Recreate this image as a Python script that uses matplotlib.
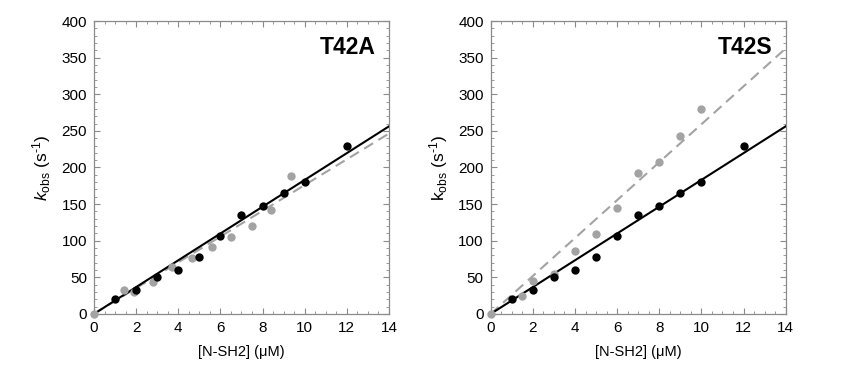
import numpy as np
import matplotlib.pyplot as plt
from matplotlib.ticker import MultipleLocator

plt.rcParams['font.family'] = ['Liberation Sans', 'DejaVu Sans']
plt.rcParams['mathtext.fontset'] = 'custom'
plt.rcParams['mathtext.rm'] = 'Liberation Sans'
plt.rcParams['mathtext.it'] = 'Liberation Sans:italic'

# wild type (black) points, same in both panels
wt_x = [1, 2, 3, 4, 5, 6, 7, 8, 9, 10, 12]
wt_y = [20, 32, 50, 60, 78, 107, 135, 148, 165, 180, 230]
wt_slope = 18.3

# T42A mutant (gray)
a_x = [0, 1.4, 1.9, 2.8, 3.7, 4.65, 5.6, 6.5, 7.5, 8.4, 9.35]
a_y = [0, 33, 30, 44, 64, 77, 92, 105, 120, 142, 189]
a_slope = 17.6

# T42S mutant (gray)
s_x = [0, 1.5, 2, 3, 4, 5, 6, 7, 8, 9, 10]
s_y = [0, 25, 45, 55, 86, 109, 144, 193, 208, 243, 280]
s_slope = 25.9

fit_x = np.array([0, 14])
gray = '#a3a3a3'
frame = '#8a8a8a'

fig = plt.figure(figsize=(8.5, 3.8), dpi=100)
ax1 = fig.add_axes([0.1106, 0.174, 0.347, 0.7705])
ax2 = fig.add_axes([0.5773, 0.174, 0.347, 0.7705])

panels = [(ax1, a_x, a_y, a_slope, 'T42A', True),
          (ax2, s_x, s_y, s_slope, 'T42S', False)]

for ax, mx, my, slope, name, italic_k in panels:
    ax.plot(fit_x, slope * fit_x, color=gray, lw=1.5, ls=(0, (5, 3)), zorder=2)
    ax.plot(fit_x, wt_slope * fit_x, color='black', lw=1.5, zorder=3)
    ax.plot(mx, my, 'o', color=gray, ms=6, mec='none', zorder=4, clip_on=False)
    ax.plot(wt_x, wt_y, 'o', color='black', ms=6, mec='none', zorder=5, clip_on=False)

    ax.set_xlim(0, 14)
    ax.set_ylim(0, 400)
    ax.xaxis.set_major_locator(MultipleLocator(2))
    ax.xaxis.set_minor_locator(MultipleLocator(0.5))
    ax.yaxis.set_major_locator(MultipleLocator(50))
    ax.yaxis.set_minor_locator(MultipleLocator(10))
    ax.tick_params(which='both', direction='in', top=True, right=True,
                   color=frame, labelsize=11, pad=5)
    ax.tick_params(which='major', length=4, width=0.8)
    ax.tick_params(which='minor', length=2, width=0.6)
    for sp in ax.spines.values():
        sp.set_color(frame)
        sp.set_linewidth(0.9)

    ax.set_xlabel('[N-SH2] (\u03bcM)', fontsize=10.5, labelpad=7)
    k = r'$\mathit{k}_{\rm obs}$' if italic_k else r'$\mathrm{k}_{\rm obs}$'
    ax.set_ylabel(k + ' (s$^{\\rm{\u2010}1}$)', fontsize=12.5, labelpad=6)
    ax.text(0.956, 0.91, name, transform=ax.transAxes, ha='right', va='center',
            fontsize=16.5, fontweight='bold')

fig.savefig('out.png', dpi=100)
